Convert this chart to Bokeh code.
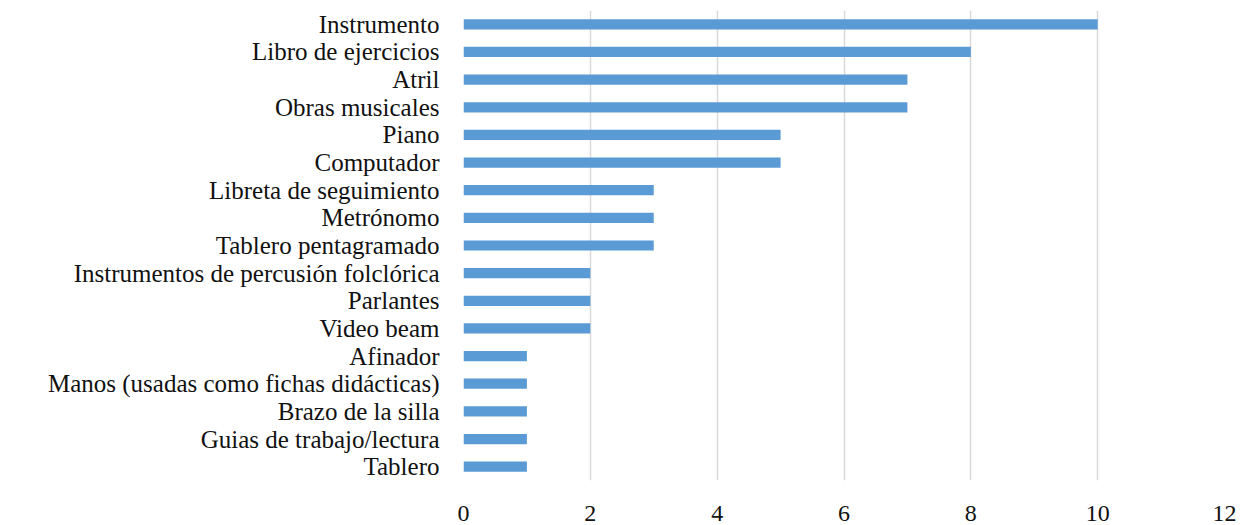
from bokeh.plotting import figure
from bokeh.models import Range1d, FactorRange, FixedTicker, ColumnDataSource
from bokeh.embed import file_html
from bokeh.resources import INLINE

# Recursos utilizados en clase (frecuencia)
categories = [
    "Instrumento",
    "Libro de ejercicios",
    "Atril",
    "Obras musicales",
    "Piano",
    "Computador",
    "Libreta de seguimiento",
    "Metrónomo",
    "Tablero pentagramado",
    "Instrumentos de percusión folclórica",
    "Parlantes",
    "Video beam",
    "Afinador",
    "Manos (usadas como fichas didácticas)",
    "Brazo de la silla",
    "Guias de trabajo/lectura",
    "Tablero",
]
counts = [10, 8, 7, 7, 5, 5, 3, 3, 3, 2, 2, 2, 1, 1, 1, 1, 1]
x_ticks = [0, 2, 4, 6, 8, 10, 12]

source = ColumnDataSource(dict(cat=categories, n=counts))

p = figure(
    width=1241, height=525,
    y_range=FactorRange(factors=list(reversed(categories))),
    x_range=Range1d(0, 12),
    output_backend="svg", toolbar_location=None,
    min_border_left=463, min_border_right=17,
    min_border_top=10, min_border_bottom=45,
)

p.hbar(y="cat", right="n", left=0, height=0.37, source=source,
       fill_color="#5B9BD5", line_color=None)

p.outline_line_color = None
p.ygrid.grid_line_color = None
p.xgrid.grid_line_color = "#d9d9d9"
p.xgrid.grid_line_width = 1.5
p.xaxis.ticker = FixedTicker(ticks=x_ticks)

for ax in (p.xaxis[0], p.yaxis[0]):
    ax.axis_line_color = None
    ax.major_tick_line_color = None
    ax.minor_tick_line_color = None
    ax.major_label_text_font = "Liberation Serif"
    ax.major_label_text_color = "#111111"

p.yaxis.major_label_text_font_size = "25px"
p.xaxis.major_label_text_font_size = "24px"
p.xaxis.major_label_standoff = 19
p.yaxis.major_label_standoff = 18

open("out.html", "w").write(file_html(p, INLINE))
